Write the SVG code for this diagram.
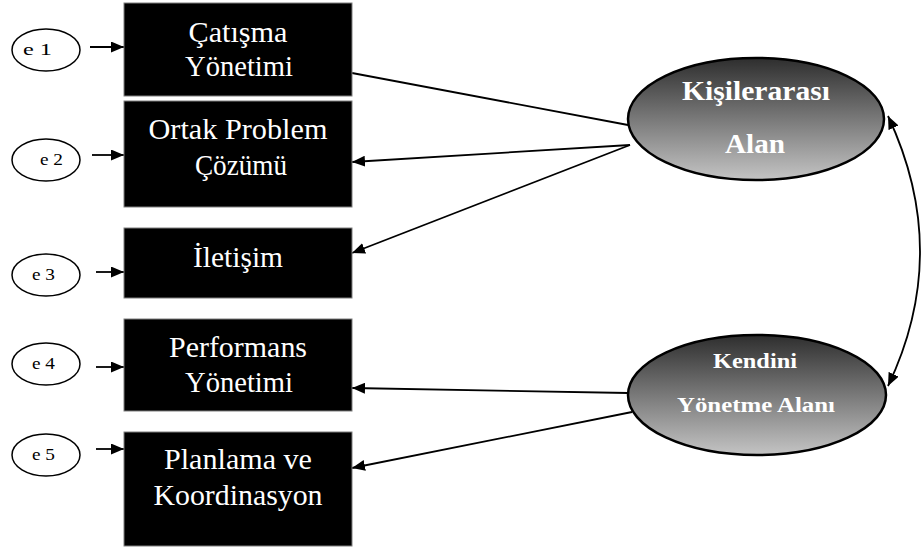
<svg xmlns="http://www.w3.org/2000/svg" width="923" height="548" viewBox="0 0 923 548">
  <defs>
    <linearGradient id="latentFill" x1="0" y1="0" x2="0" y2="1">
      <stop offset="0" stop-color="#2e2e2e"/>
      <stop offset="1" stop-color="#c4c4c4"/>
    </linearGradient>
    <marker id="head" viewBox="0 0 13 11" refX="13" refY="5.5" markerWidth="13" markerHeight="11" markerUnits="userSpaceOnUse" orient="auto-start-reverse">
      <path d="M0,0 L13,5.5 L0,11 Z" fill="#000"/>
    </marker>
    <style>
      .box { fill: #000; stroke: #7f7f7f; stroke-width: 1; }
      .err { fill: #fff; stroke: #000; stroke-width: 1.5; }
      .latent { fill: url(#latentFill); stroke: #000; stroke-width: 2.5; }
      .btxt { font-family: "Liberation Serif", "Times New Roman", serif; font-size: 29px; fill: #fff; text-anchor: middle; }
      .etxt { font-family: "Liberation Serif", "Times New Roman", serif; font-size: 17px; fill: #000; }
      .ltxt { font-family: "Liberation Serif", "Times New Roman", serif; font-weight: bold; fill: #fff; text-anchor: middle; }
      .conn line, .conn path { stroke: #000; stroke-width: 1.8; fill: none; }
    </style>
  </defs>

  <!-- error terms -->
  <g id="e1"><ellipse class="err" cx="46" cy="50" rx="34" ry="21"/><text class="etxt" x="23" y="55" textLength="29" lengthAdjust="spacingAndGlyphs">e 1</text></g>
  <g id="e2"><ellipse class="err" cx="46" cy="160" rx="34" ry="21"/><text class="etxt" x="40" y="165" textLength="23" lengthAdjust="spacingAndGlyphs">e 2</text></g>
  <g id="e3"><ellipse class="err" cx="46" cy="275" rx="34" ry="21"/><text class="etxt" x="32" y="280" textLength="23" lengthAdjust="spacingAndGlyphs">e 3</text></g>
  <g id="e4"><ellipse class="err" cx="46" cy="364" rx="34" ry="21"/><text class="etxt" x="32" y="369" textLength="23" lengthAdjust="spacingAndGlyphs">e 4</text></g>
  <g id="e5"><ellipse class="err" cx="46" cy="455" rx="34" ry="21"/><text class="etxt" x="32" y="460" textLength="23" lengthAdjust="spacingAndGlyphs">e 5</text></g>

  <!-- connectors -->
  <g id="connectors" class="conn">
    <line x1="90" y1="47" x2="124" y2="47" marker-end="url(#head)"/>
    <line x1="92" y1="155" x2="124" y2="155" marker-end="url(#head)"/>
    <line x1="96" y1="272" x2="124" y2="272" marker-end="url(#head)"/>
    <line x1="96" y1="367" x2="124" y2="367" marker-end="url(#head)"/>
    <line x1="96" y1="449" x2="124" y2="449" marker-end="url(#head)"/>
    <line x1="628" y1="125" x2="352" y2="73"/>
    <line x1="630" y1="145" x2="352" y2="162" marker-end="url(#head)"/>
    <line x1="630" y1="145" x2="352" y2="253" marker-end="url(#head)"/>
    <line x1="628" y1="393" x2="352" y2="388" marker-end="url(#head)"/>
    <line x1="632" y1="412" x2="352" y2="468" marker-end="url(#head)"/>
    <path d="M888,116 Q952,252 888,386" marker-start="url(#head)" marker-end="url(#head)"/>
  </g>

  <!-- observed indicators -->
  <g id="catisma"><rect class="box" x="124" y="3" width="228" height="93"/>
    <text class="btxt" x="238" y="42" textLength="99" lengthAdjust="spacingAndGlyphs">Çatışma</text>
    <text class="btxt" x="239" y="76" textLength="108" lengthAdjust="spacingAndGlyphs">Yönetimi</text></g>
  <g id="problem"><rect class="box" x="124" y="101" width="228" height="106"/>
    <text class="btxt" x="238" y="139" textLength="179" lengthAdjust="spacingAndGlyphs">Ortak Problem</text>
    <text class="btxt" x="241" y="175" textLength="92" lengthAdjust="spacingAndGlyphs">Çözümü</text></g>
  <g id="iletisim"><rect class="box" x="124" y="228" width="228" height="70"/>
    <text class="btxt" x="238" y="267" textLength="90" lengthAdjust="spacingAndGlyphs">İletişim</text></g>
  <g id="performans"><rect class="box" x="124" y="319" width="228" height="92"/>
    <text class="btxt" x="238" y="357" textLength="138" lengthAdjust="spacingAndGlyphs">Performans</text>
    <text class="btxt" x="239" y="392" textLength="108" lengthAdjust="spacingAndGlyphs">Yönetimi</text></g>
  <g id="planlama"><rect class="box" x="124" y="432" width="228" height="114"/>
    <text class="btxt" x="238" y="469" textLength="148" lengthAdjust="spacingAndGlyphs">Planlama ve</text>
    <text class="btxt" x="238" y="505" textLength="169" lengthAdjust="spacingAndGlyphs">Koordinasyon</text></g>

  <!-- latent factors -->
  <g id="kisilerarasi"><ellipse class="latent" cx="756" cy="119" rx="128" ry="61"/>
    <text class="ltxt" x="756" y="100" font-size="27" textLength="148" lengthAdjust="spacingAndGlyphs">Kişilerarası</text>
    <text class="ltxt" x="755" y="153" font-size="27" textLength="60" lengthAdjust="spacingAndGlyphs">Alan</text></g>
  <g id="kendini"><ellipse class="latent" cx="757" cy="395" rx="129" ry="60"/>
    <text class="ltxt" x="755" y="368" font-size="20" textLength="84" lengthAdjust="spacingAndGlyphs">Kendini</text>
    <text class="ltxt" x="756" y="412" font-size="20" textLength="158" lengthAdjust="spacingAndGlyphs">Yönetme Alanı</text></g>
</svg>
